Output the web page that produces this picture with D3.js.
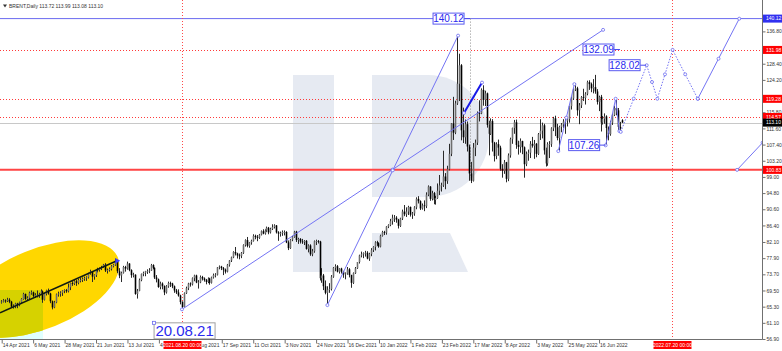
<!DOCTYPE html>
<html>
<head>
<meta charset="utf-8">
<script src="https://cdn.jsdelivr.net/npm/d3@7"></script>
<style>
  body { margin: 0; background: #fff; }
  svg { display: block; }
  text { font-family: "Liberation Sans", Arial, sans-serif; }
</style>
</head>
<body>
<svg width="782" height="351"></svg>
<script>
// daily bars from 14 Apr 2021 (bar 0) to 4 Jul 2022 (bar 316)
const opens = [
  66.5,66.6,66.9,66.8,67.1,66.6,65.3,65.4,66.1,65.7,
  66.4,67.3,68.6,67.3,67.6,68.9,69.0,68.1,68.3,68.3,
  68.6,69.3,67.1,68.7,69.5,68.7,66.7,65.1,66.4,68.5,
  68.7,68.9,69.5,69.6,69.3,70.3,71.4,71.3,71.9,71.5,
  72.2,72.2,72.5,72.7,72.9,74.0,74.4,73.1,73.5,74.9,
  74.8,75.2,75.6,76.2,74.7,74.8,75.1,75.8,76.2,77.2,
  74.5,73.4,74.1,75.6,75.2,76.5,74.8,73.5,73.6,68.6,
  69.4,72.2,73.8,74.1,74.5,74.5,74.7,76.1,75.4,72.9,
  72.4,70.4,71.3,70.7,69.0,70.6,71.4,71.3,70.6,69.5,
  69.0,68.2,66.5,65.2,68.8,70.1,71.3,71.1,72.7,73.4,
  71.6,71.6,73.0,72.6,72.2,71.7,72.6,71.5,72.9,73.5,
  73.6,75.5,75.7,75.3,74.9,74.4,76.2,77.3,78.1,79.5,
  79.1,78.6,78.5,79.3,81.3,82.6,81.1,82.0,82.4,83.7,
  83.4,83.2,84.0,84.9,84.3,85.1,85.8,84.6,85.5,86.0,
  86.4,84.6,84.3,84.4,84.7,84.7,82.0,80.5,82.7,83.4,
  84.8,82.6,82.9,82.2,82.1,82.4,80.3,81.2,78.9,79.7,
  82.3,82.3,82.2,72.7,73.4,70.6,68.9,69.7,69.9,73.1,
  75.4,75.8,74.4,75.2,74.4,73.7,73.9,75.0,73.5,71.5,
  74.0,75.3,76.9,78.6,78.9,79.2,79.3,77.8,79.0,80.0,
  80.8,82.0,81.8,80.9,83.7,84.7,84.5,86.1,86.5,87.5,
  88.4,88.4,87.9,86.3,88.2,90.0,89.3,90.0,91.2,89.2,
  89.5,91.1,93.3,92.7,90.8,91.6,91.4,94.4,96.5,93.3,
  94.8,93.0,93.5,95.4,96.8,96.8,99.1,97.9,101.0,105.0,
  112.9,110.5,118.1,123.2,128.0,111.1,109.3,112.7,106.9,99.9,
  98.0,106.6,107.9,115.6,115.5,121.6,119.0,120.7,112.5,110.2,
  113.5,107.9,104.4,107.5,106.6,101.1,100.6,102.8,98.5,104.6,
  108.8,111.7,113.2,107.3,106.8,108.3,106.7,102.3,105.0,105.3,
  107.6,107.1,107.6,105.0,110.1,111.0,112.4,105.9,102.5,107.5,
  107.5,111.6,114.2,111.9,109.1,112.0,112.6,113.4,113.6,114.0,
  117.4,119.4,121.7,122.0,116.3,117.6,119.7,119.5,120.6,123.6,
  123.1,122.0,122.3,121.2,118.5,119.8,113.1,114.1,114.7,111.7,
  110.1,113.1,115.1,116.9,116.3,112.0,113.72
];
const highs = [
  67.0,67.3,67.2,67.6,67.5,66.8,65.9,66.3,66.3,66.6,
  67.5,68.9,68.7,68.0,69.2,69.5,69.2,68.8,69.5,68.9,
  69.8,69.5,68.9,69.7,70.0,68.9,66.9,66.8,68.7,69.2,
  69.3,69.6,69.8,69.9,71.3,71.5,71.9,72.2,72.3,72.5,
  72.8,72.9,73.1,73.2,74.1,74.9,74.5,73.7,75.1,75.4,
  75.5,75.9,76.4,76.6,75.2,75.5,76.1,76.4,77.8,77.5,
  75.3,74.4,75.9,75.9,77.0,76.6,75.0,74.1,73.7,69.9,
  72.6,73.9,74.4,74.6,75.0,75.3,76.4,76.3,75.5,73.5,
  72.6,71.8,71.6,70.8,70.9,71.8,71.8,71.5,70.8,69.9,
  69.8,68.4,66.7,69.0,70.5,71.5,71.6,72.9,73.6,73.6,
  72.2,73.4,73.3,72.9,72.5,72.9,72.8,73.1,73.9,74.0,
  75.6,76.0,75.9,75.6,75.2,76.4,77.4,78.3,79.7,80.8,
  79.3,79.1,79.5,81.5,82.8,83.4,82.1,82.7,84.1,84.0,
  83.9,84.2,85.1,85.4,85.4,86.1,86.0,85.8,86.7,86.7,
  86.5,84.9,84.8,85.1,85.1,84.9,82.5,82.9,83.7,85.0,
  85.0,83.2,83.1,82.9,82.6,82.6,81.5,81.5,80.3,82.5,
  82.7,82.6,82.4,75.3,73.8,72.1,70.6,71.4,73.5,75.6,
  76.3,76.1,75.3,75.4,74.6,74.2,75.6,75.3,73.6,74.2,
  75.6,76.9,78.8,79.6,79.4,79.8,79.7,79.3,80.5,81.0,
  82.3,82.4,82.0,84.0,85.0,85.0,86.2,86.7,88.1,89.2,
  89.1,88.8,88.1,88.4,90.5,91.7,91.1,91.5,91.3,89.9,
  91.4,93.7,94.0,92.9,92.1,92.9,95.0,96.8,96.6,95.4,
  95.1,94.1,97.3,99.5,97.5,105.8,100.0,101.9,107.6,113.0,
  119.8,118.8,135.8,131.0,128.3,117.0,113.9,113.4,107.4,102.9,
  107.8,108.7,116.0,118.9,122.0,122.8,121.4,120.9,113.6,114.2,
  114.0,108.1,108.0,108.7,107.1,102.3,103.4,102.9,105.1,109.2,
  111.8,113.8,113.9,108.4,109.0,108.4,106.9,105.6,106.1,108.3,
  109.4,108.6,107.8,110.4,114.0,113.1,112.8,106.6,108.0,108.3,
  111.9,114.6,114.9,112.8,112.3,113.0,114.0,114.3,114.3,117.5,
  119.9,122.0,123.3,122.4,118.2,120.0,121.9,121.0,124.0,124.1,
  123.5,124.4,125.5,121.8,120.1,120.3,114.8,115.5,115.0,112.1,
  113.6,115.6,117.5,119.2,116.9,113.3,113.99
];
const lows = [
  66.1,66.4,66.3,66.5,66.2,65.0,64.8,64.9,64.9,65.4,
  66.0,67.1,67.0,66.8,67.3,68.4,67.8,67.6,67.7,67.6,
  68.3,66.3,66.9,68.2,68.4,66.2,64.6,64.9,66.2,67.9,
  67.9,68.1,68.8,68.9,69.0,69.6,70.7,70.9,70.7,71.1,
  71.6,71.7,72.0,72.0,72.6,73.6,71.7,72.3,73.0,74.2,
  74.4,74.8,75.4,74.3,73.9,74.4,74.7,75.5,75.9,74.0,
  72.7,71.7,73.9,74.4,74.9,74.5,72.8,72.9,68.4,67.4,
  69.3,71.9,73.2,73.2,73.8,74.0,74.6,75.0,72.5,71.6,
  70.2,69.8,69.8,68.3,68.7,70.2,70.4,70.1,68.9,68.6,
  67.9,65.9,64.6,65.1,68.6,69.6,70.5,70.8,71.9,71.4,
  70.0,71.4,72.1,71.8,71.1,71.4,71.0,71.3,72.6,72.9,
  73.4,75.0,74.8,73.5,73.9,74.2,75.7,76.9,77.9,78.6,
  77.8,77.6,77.9,79.0,80.9,80.7,80.6,81.4,82.2,82.8,
  82.3,82.9,83.8,84.1,84.0,84.7,84.1,84.3,85.2,85.6,
  84.3,82.4,83.5,83.7,83.8,81.8,80.0,80.3,82.3,83.2,
  82.1,81.6,81.7,81.6,81.3,80.1,79.4,78.5,78.4,79.3,
  81.3,81.7,72.1,71.5,69.6,68.5,65.7,68.9,69.5,72.8,
  74.5,74.2,73.9,73.9,72.8,72.4,73.6,72.9,70.2,71.2,
  73.8,75.1,76.5,78.1,77.9,78.3,77.6,77.2,78.4,79.5,
  79.9,81.1,80.6,80.7,83.5,83.9,84.0,85.7,86.2,86.6,
  87.3,87.1,85.6,86.0,87.8,88.8,88.6,89.1,88.7,88.1,
  88.9,90.6,92.1,90.4,90.5,90.1,90.9,94.0,92.8,92.9,
  91.9,91.8,93.3,94.3,95.2,96.4,95.8,97.2,100.7,104.4,
  108.6,110.1,117.7,118.7,108.5,107.8,107.6,105.6,98.0,97.4,
  97.8,104.4,107.3,113.4,115.3,117.5,117.4,111.8,104.6,109.9,
  105.6,103.0,103.6,104.5,100.6,98.8,99.8,97.6,97.9,104.0,
  107.6,110.2,106.3,104.8,105.3,104.9,98.8,101.8,103.2,103.9,
  106.6,103.7,104.1,104.7,108.6,109.0,104.8,101.7,101.9,103.9,
  106.8,110.9,109.6,108.5,105.8,110.6,111.7,110.2,112.1,113.1,
  116.5,119.0,121.3,114.9,112.7,116.9,118.7,117.8,120.2,121.6,
  121.0,120.7,120.6,117.8,116.1,110.8,112.6,112.8,107.1,108.5,
  109.7,112.5,114.8,115.0,111.1,110.9,113.08
];
const closes = [
  66.6,66.9,66.8,67.1,66.6,65.3,65.4,66.1,65.7,66.4,
  67.3,68.6,67.3,67.6,68.9,69.0,68.1,68.3,68.3,68.6,
  69.3,67.1,68.7,69.5,68.7,66.7,65.1,66.4,68.5,68.7,
  68.9,69.5,69.6,69.3,70.3,71.4,71.3,71.9,71.5,72.2,
  72.2,72.5,72.7,72.9,74.0,74.4,73.1,73.5,74.9,74.8,
  75.2,75.6,76.2,74.7,74.8,75.1,75.8,76.2,77.2,74.5,
  73.4,74.1,75.6,75.2,76.5,74.8,73.5,73.6,68.6,69.4,
  72.2,73.8,74.1,74.5,74.5,74.7,76.1,75.4,72.9,72.4,
  70.4,71.3,70.7,69.0,70.6,71.4,71.3,70.6,69.5,69.0,
  68.2,66.5,65.2,68.8,70.1,71.3,71.1,72.7,73.4,71.6,
  71.6,73.0,72.6,72.2,71.7,72.6,71.5,72.9,73.5,73.6,
  75.5,75.7,75.3,74.9,74.4,76.2,77.3,78.1,79.5,79.1,
  78.6,78.5,79.3,81.3,82.6,81.1,82.0,82.4,83.7,83.4,
  83.2,84.0,84.9,84.3,85.1,85.8,84.6,85.5,86.0,86.4,
  84.6,84.3,84.4,84.7,84.7,82.0,80.5,82.7,83.4,84.8,
  82.6,82.9,82.2,82.1,82.4,80.3,81.2,78.9,79.7,82.3,
  82.3,82.2,72.7,73.4,70.6,68.9,69.7,69.9,73.1,75.4,
  75.8,74.4,75.2,74.4,73.7,73.9,75.0,73.5,71.5,74.0,
  75.3,76.9,78.6,78.9,79.2,79.3,77.8,79.0,80.0,80.8,
  82.0,81.8,80.9,83.7,84.7,84.5,86.1,86.5,87.5,88.4,
  88.4,87.9,86.3,88.2,90.0,89.3,90.0,91.2,89.2,89.5,
  91.1,93.3,92.7,90.8,91.6,91.4,94.4,96.5,93.3,94.8,
  93.0,93.5,95.4,96.8,96.8,99.1,97.9,101.0,105.0,112.9,
  110.5,118.1,123.2,128.0,111.1,109.3,112.7,106.9,99.9,98.0,
  106.6,107.9,115.6,115.5,121.6,119.0,120.7,112.5,110.2,113.5,
  107.9,104.4,107.5,106.6,101.1,100.6,102.8,98.5,104.6,108.8,
  111.7,113.2,107.3,106.8,108.3,106.7,102.3,105.0,105.3,107.6,
  107.1,107.6,105.0,110.1,111.0,112.4,105.9,102.5,107.5,107.5,
  111.6,114.2,111.9,109.1,112.0,112.6,113.4,113.6,114.0,117.4,
  119.4,121.7,122.0,116.3,117.6,119.7,119.5,120.6,123.6,123.1,
  122.0,122.3,121.2,118.5,119.8,113.1,114.1,114.7,111.7,110.1,
  113.1,115.1,116.9,116.3,112.0,111.6,113.10
];

const timeTickBars = [0,16,32,48,64,80,96,112,128,144,160,176,192,208,224,240,256,272,288,304];
const timeTickLabels = ['14 Apr 2021','6 May 2021','28 May 2021','21 Jun 2021','13 Jul 2021','4 Aug 2021',
  '26 Aug 2021','17 Sep 2021','11 Oct 2021','3 Nov 2021','24 Nov 2021','16 Dec 2021','10 Jan 2022',
  '1 Feb 2022','23 Feb 2022','17 Mar 2022','8 Apr 2022','3 May 2022','25 May 2022','16 Jun 2022'];
// 120.00 and 132.60 sit under the level tags and are not shown
const priceTicks = [56.9,61.1,65.3,69.5,73.7,77.9,82.1,86.4,90.6,94.8,99.0,103.2,107.4,111.6,115.8,124.2,128.4,136.8];

// horizontal levels
const topLevel = 140.12;
const dottedLevels = [131.98, 119.28, 114.57];
const supportLevel = 100.83;
const lastPrice = 113.10;
const axisTagValues = [140.12, 131.98, 119.28, 114.57, 113.10, 100.83];
const axisTagKinds = ['blue', 'red', 'red', 'red', 'black', 'red'];

// vertical date markers [bar, label]
const dateMarkers = [[92, '2021.08.20 00:00'], [341.4, '2022.07.20 00:00']];

// drawn objects, points as [bar, price]
const channelLine = [[-0.6, 63.7], [58.9, 77.2]];
const longLine = [[92, 64.6], [306.3, 137.2]];
const steepLine = [[166, 65.7], [232.5, 135.7]];
const thickLine = [[235.5, 115.6], [244.7, 123.5]];
const mayWave = [[283.5, 105.7], [291.7, 123.1]];
const juneWave = [[307.6, 107.2], [312.7, 119.3], [314.6, 110.9]];
const forecastPath = [[315.3, 110.7], [328.5, 128.0], [333.9, 119.3], [341.7, 132.0], [354.5, 119.3]];
const forecastTail = [[354.5, 119.3], [375.6, 140.1]];
const breakoutLine = [[374.5, 100.83], [387.5, 107.9]];

// price notes [text, bar, price]
const priceNotes = [['140.12', 238.6, 140.12], ['132.09', 314.9, 132.09], ['128.02', 328.2, 128.02], ['107.26', 307.6, 107.26]];
const dateNote = ['20.08.21', 77.8, 61.1];

const svg = d3.select('svg');
const PLOT_R = 762;
const PLOT_B = 339;

const x = d3.scaleLinear().domain([0, 316]).range([1.2, 1.2 + 316 * 1.965]);
const y = d3.scaleLinear().domain([56.9, 140.12]).range([PLOT_B, PLOT_B - 83.22 * 3.85]);

svg.append('rect').attr('width', 782).attr('height', 351).attr('fill', '#fff');

// time labels are hidden where the red date tags sit on them
const tagHoles = dateMarkers.map(([b]) => Math.round(x(b)) + 0.5);
let holePath = 'M0,340 H782 V351 H0 Z';
tagHoles.forEach(cx => { holePath += ` M${cx - 19},341 V350 H${cx + 19} V341 Z`; });

svg.append('defs').html(`
  <clipPath id="plotclip"><rect x="0" y="0" width="${PLOT_R}" height="${PLOT_B}"/></clipPath>
  <clipPath id="ellclip"><ellipse cx="40" cy="289" rx="84" ry="40" transform="rotate(-22 40 289)"/></clipPath>
  <clipPath id="timeclip"><path clip-rule="evenodd" d="${holePath}"/></clipPath>
`);

const plot = svg.append('g').attr('clip-path', 'url(#plotclip)');

// watermark logo
const logo = plot.append('g').attr('fill', '#e6eaf2');
logo.append('rect').attr('x', 293).attr('y', 75).attr('width', 41).attr('height', 197);
logo.append('path').attr('d', 'M372,75 H428 A61,61 0 0 1 428,197 H372 Z');
logo.append('path').attr('d', 'M372,233 H450 L468,272 H372 Z');

// highlighted zone
plot.append('rect').attr('x', 0).attr('y', 290).attr('width', 43).attr('height', 49).attr('fill', '#e0ffff');
plot.append('ellipse').attr('cx', 40).attr('cy', 289).attr('rx', 84).attr('ry', 40)
  .attr('transform', 'rotate(-22 40 289)').attr('fill', '#ffd700');
plot.append('rect').attr('x', 0).attr('y', 290).attr('width', 43).attr('height', 49)
  .attr('fill', '#d6d200').attr('clip-path', 'url(#ellclip)');

// levels
plot.append('line').attr('x1', 0).attr('x2', PLOT_R).attr('y1', y(topLevel)).attr('y2', y(topLevel))
  .attr('stroke', '#6a6af0').attr('stroke-width', 1);
plot.selectAll('.dl').data(dottedLevels).join('line').attr('class', 'dl')
  .attr('x1', 0).attr('x2', PLOT_R).attr('y1', d => Math.round(y(d)) + 0.5).attr('y2', d => Math.round(y(d)) + 0.5)
  .attr('stroke', '#ff3a3a').attr('stroke-dasharray', '1,2');
plot.append('line').attr('x1', 0).attr('x2', PLOT_R).attr('y1', Math.round(y(lastPrice)) + 0.5).attr('y2', Math.round(y(lastPrice)) + 0.5)
  .attr('stroke', '#c8c8c8');
plot.append('line').attr('x1', 0).attr('x2', PLOT_R).attr('y1', y(supportLevel)).attr('y2', y(supportLevel))
  .attr('stroke', '#ff4545').attr('stroke-width', 2);

plot.selectAll('.vm').data(dateMarkers).join('line').attr('class', 'vm')
  .attr('x1', d => Math.round(x(d[0])) + 0.5).attr('x2', d => Math.round(x(d[0])) + 0.5)
  .attr('y1', 0).attr('y2', PLOT_B)
  .attr('stroke', '#ff4a4a').attr('stroke-dasharray', '1,2');

// dotted guide below the 140.12 note
plot.append('line')
  .attr('x1', Math.round(x(priceNotes[0][1])) + 0.5).attr('x2', Math.round(x(priceNotes[0][1])) + 0.5)
  .attr('y1', y(priceNotes[0][2])).attr('y2', y(98.8))
  .attr('stroke', '#909090').attr('stroke-dasharray', '1,2');

// candles
const bars = closes.map((c, i) => ({ i, o: opens[i], h: highs[i], l: lows[i], c }));
const candles = plot.append('g');
candles.selectAll('line').data(bars).join('line')
  .attr('x1', d => Math.round(x(d.i)) + 0.5).attr('x2', d => Math.round(x(d.i)) + 0.5)
  .attr('y1', d => y(d.h)).attr('y2', d => y(d.l))
  .attr('stroke', '#2a2a2a').attr('stroke-width', 1);
candles.selectAll('rect').data(bars).join('rect')
  .attr('x', d => Math.round(x(d.i)) - 0.3)
  .attr('width', 1.6)
  .attr('y', d => y(Math.max(d.o, d.c)))
  .attr('height', d => Math.max(0.8, Math.abs(y(d.o) - y(d.c))))
  .attr('fill', d => d.c < d.o ? '#000' : '#6e6e6e');

// trend objects
const lineGen = d3.line().x(d => x(d[0])).y(d => y(d[1]));
function trend(pts, color, width, dash, mids) {
  plot.append('path').attr('d', lineGen(pts)).attr('fill', 'none')
    .attr('stroke', color).attr('stroke-width', width).attr('stroke-dasharray', dash || null);
  const marks = pts.slice();
  if (mids) {
    for (let k = 0; k < pts.length - 1; k++) {
      marks.push([(pts[k][0] + pts[k + 1][0]) / 2, (pts[k][1] + pts[k + 1][1]) / 2]);
    }
  }
  plot.append('g').selectAll('circle').data(marks).join('circle')
    .attr('cx', d => x(d[0])).attr('cy', d => y(d[1])).attr('r', 1.5)
    .attr('fill', '#fff').attr('stroke', '#6a6af0').attr('stroke-width', 0.8);
}

plot.append('path').attr('d', lineGen(channelLine)).attr('fill', 'none').attr('stroke', '#101a10').attr('stroke-width', 1.6);
plot.append('path')
  .attr('d', d3.symbol(d3.symbolTriangle, 14)())
  .attr('transform', `translate(${x(channelLine[1][0])},${y(channelLine[1][1])}) rotate(90)`)
  .attr('fill', '#4040ff');

trend(longLine, '#7474f4', 1, null, true);
trend(steepLine, '#7474f4', 1, null, true);
trend(thickLine, '#1818e8', 2, null, false);
trend(mayWave, '#7474f4', 1, null, true);
trend(juneWave, '#7474f4', 1, null, false);
trend(forecastPath, '#7474f4', 1, '1.5,1.5', true);
trend(forecastTail, '#7474f4', 1, null, true);
trend(breakoutLine, '#7474f4', 1, null, false);

// price notes
const notes = plot.append('g');
priceNotes.forEach(([txt, b, p]) => {
  const ax = x(b), ay = y(p);
  const bw = 31, bh = 11;
  notes.append('line').attr('x1', ax - 6).attr('x2', ax).attr('y1', ay).attr('y2', ay)
    .attr('stroke', '#4a4af0').attr('stroke-width', 1);
  notes.append('rect').attr('x', ax - 6 - bw).attr('y', ay - bh / 2).attr('width', bw).attr('height', bh)
    .attr('fill', '#fff').attr('stroke', '#5a5af0').attr('stroke-width', 1);
  notes.append('text').attr('x', ax - 6 - bw / 2).attr('y', ay + 3.6).attr('text-anchor', 'middle')
    .attr('font-size', 10).attr('fill', '#2a2aee').text(txt);
});
{
  const [txt, b, p] = dateNote;
  const nx = x(b), ny = y(p);
  notes.append('rect').attr('x', nx).attr('y', ny).attr('width', 61).attr('height', 16)
    .attr('fill', '#fff').attr('stroke', '#a0a0a0').attr('stroke-width', 1);
  notes.append('text').attr('x', nx + 30.5).attr('y', ny + 13.5).attr('text-anchor', 'middle')
    .attr('font-size', 15).attr('fill', '#2a2aee').text(txt);
  notes.append('rect').attr('x', nx - 1.5).attr('y', ny - 1.5).attr('width', 3).attr('height', 3)
    .attr('fill', '#fff').attr('stroke', '#6a6af0').attr('stroke-width', 0.8);
}

// axes
const axisColor = '#707070';
svg.append('line').attr('x1', PLOT_R + 0.5).attr('x2', PLOT_R + 0.5).attr('y1', 0).attr('y2', PLOT_B + 0.5)
  .attr('stroke', axisColor);
svg.append('line').attr('x1', 0).attr('x2', PLOT_R + 0.5).attr('y1', PLOT_B + 0.5).attr('y2', PLOT_B + 0.5)
  .attr('stroke', axisColor);

const yAxis = svg.append('g').attr('transform', `translate(${PLOT_R + 0.5},0)`)
  .call(d3.axisRight(y).tickValues(priceTicks).tickFormat(d3.format('.2f')).tickSize(3).tickPadding(1));
yAxis.select('.domain').remove();
yAxis.selectAll('line').attr('stroke', axisColor);
yAxis.selectAll('text').attr('font-size', 5).attr('fill', '#333');

const xAxis = svg.append('g').attr('clip-path', 'url(#timeclip)')
  .append('g').attr('transform', `translate(0,${PLOT_B + 0.5})`)
  .call(d3.axisBottom(x).tickValues(timeTickBars).tickFormat((d, i) => timeTickLabels[i]).tickSize(4).tickPadding(2));
xAxis.select('.domain').remove();
xAxis.selectAll('line').attr('stroke', axisColor).attr('transform', 'translate(0.5,0)');
xAxis.selectAll('text').attr('font-size', 5).attr('fill', '#333').attr('text-anchor', 'start').attr('dx', 1).attr('dy', '0.2em');

// axis tags
const tagFill = { blue: '#3030f0', red: '#ff0000', black: '#000' };
const tags = svg.append('g');
axisTagValues.forEach((v, k) => {
  tags.append('rect').attr('x', PLOT_R + 1).attr('y', y(v) - 4).attr('width', 20).attr('height', 8)
    .attr('fill', tagFill[axisTagKinds[k]]);
  tags.append('text').attr('x', PLOT_R + 4).attr('y', y(v) + 1.8).attr('font-size', 5).attr('fill', '#fff')
    .text(d3.format('.2f')(v));
});
tagHoles.forEach((cx, k) => {
  tags.append('rect').attr('x', cx - 19).attr('y', PLOT_B + 2).attr('width', 38).attr('height', 8).attr('fill', '#ff0000');
  tags.append('text').attr('x', cx).attr('y', PLOT_B + 7.8).attr('text-anchor', 'middle')
    .attr('font-size', 5).attr('fill', '#fff').text(dateMarkers[k][1]);
});

// title
svg.append('path').attr('d', 'M3,4.5 L7,4.5 L5,7.5 Z').attr('fill', '#333');
svg.append('text').attr('x', 9).attr('y', 7.5).attr('font-size', 5).attr('fill', '#333')
  .text('BRENT,Daily  113.72 113.99 113.08 113.10');
</script>
</body>
</html>
